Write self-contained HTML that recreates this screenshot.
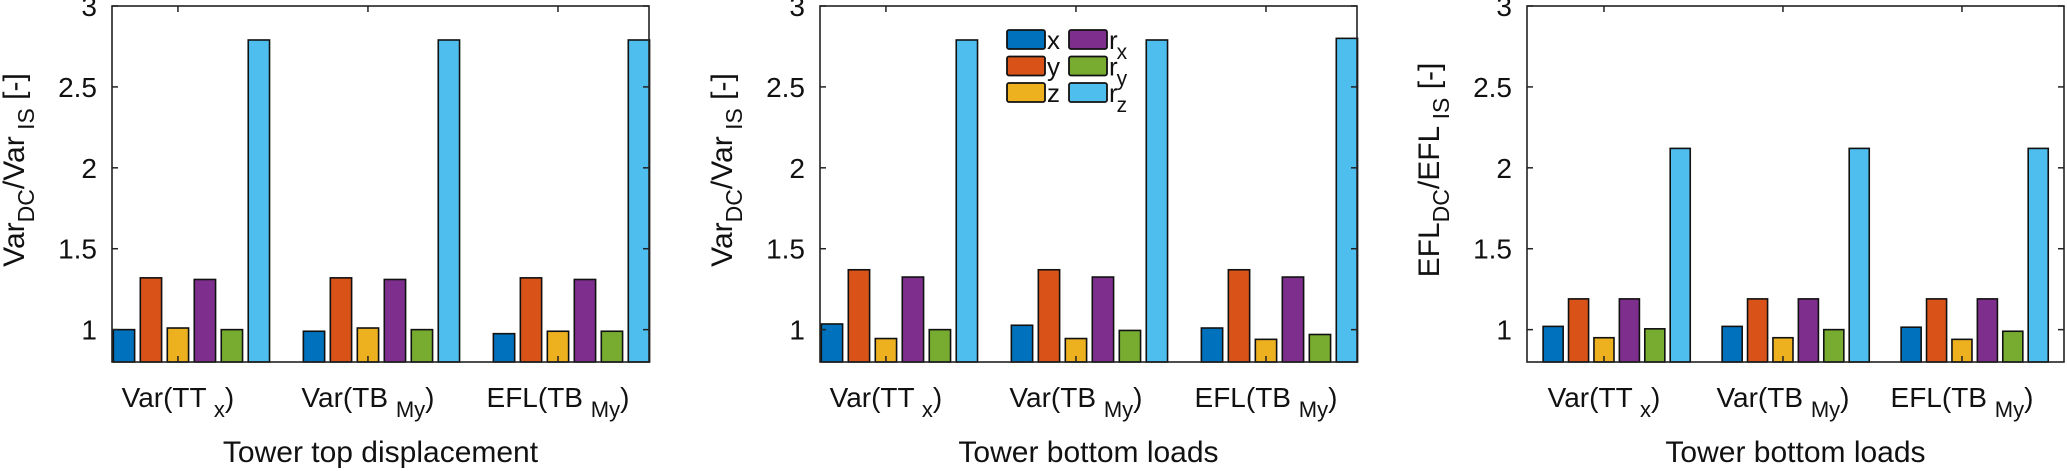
<!DOCTYPE html>
<html><head><meta charset="utf-8">
<style>
html,body{margin:0;padding:0;background:#fff;}
svg{display:block;font-family:"Liberation Sans",Arial,sans-serif;}
</style></head>
<body>
<svg id="chart" width="2067" height="471" viewBox="0 0 2067 471" xmlns="http://www.w3.org/2000/svg"></svg>
<script>
const categories = ["Var(TT_x)", "Var(TB_My)", "EFL(TB_My)"];
const seriesNames = ["x","y","z","rx","ry","rz"];
const yTicks = [1, 1.5, 2, 2.5, 3];
const yTickLabels = ["1","1.5","2","2.5","3"];
// panel 1: tower top displacement (Var ratio)
const p1x  = [1.00, 0.99, 0.975];
const p1y  = [1.32, 1.32, 1.32];
const p1z  = [1.01, 1.01, 0.99];
const p1rx = [1.31, 1.31, 1.31];
const p1ry = [1.00, 1.00, 0.99];
const p1rz = [2.79, 2.79, 2.79];
// panel 2: tower bottom loads (Var ratio)
const p2x  = [1.035, 1.027, 1.01];
const p2y  = [1.37, 1.37, 1.37];
const p2z  = [0.945, 0.945, 0.94];
const p2rx = [1.325, 1.325, 1.325];
const p2ry = [1.00, 0.995, 0.97];
const p2rz = [2.79, 2.79, 2.80];
// panel 3: tower bottom loads (EFL ratio)
const p3x  = [1.02, 1.02, 1.015];
const p3y  = [1.19, 1.19, 1.19];
const p3z  = [0.95, 0.95, 0.94];
const p3rx = [1.19, 1.19, 1.19];
const p3ry = [1.005, 1.00, 0.99];
const p3rz = [2.12, 2.12, 2.12];

const colors = ["#0072BD","#D95319","#EDB120","#7E2F8E","#77AC30","#4DBEEE"];
const NS = "http://www.w3.org/2000/svg";
const svg = document.getElementById("chart");
function mk(tag, attrs, parent){const e=document.createElementNS(NS,tag);for(const k in attrs)e.setAttribute(k,attrs[k]);(parent||svg).appendChild(e);return e;}

const panels = [
 {left:112, xmin:0.653, xmax:3.479, data:[p1x,p1y,p1z,p1rx,p1ry,p1rz], ylab:"Var", xlab:"Tower top displacement", name:"panel-top-displacement"},
 {left:820, xmin:0.653, xmax:3.479, data:[p2x,p2y,p2z,p2rx,p2ry,p2rz], ylab:"Var", xlab:"Tower bottom loads", name:"panel-bottom-loads-var"},
 {left:1527,xmin:0.57,  xmax:3.57,  data:[p3x,p3y,p3z,p3rx,p3ry,p3rz], ylab:"EFL", xlab:"Tower bottom loads", name:"panel-bottom-loads-efl"}
];
const W=537, yTop=6, yBottom=362, ymin=0.8, ymax=3;
const yScale = v => yBottom - (v-ymin)/(ymax-ymin)*(yBottom-yTop);

panels.forEach((p,pi)=>{
  const g = mk("g",{});
  
  
  const xScale = v => p.left + (v-p.xmin)/(p.xmax-p.xmin)*W;
  const unit = W/(p.xmax-p.xmin);
  const off = 0.142, bw = 0.112;
  p.data.forEach((arr,si)=>{
    arr.forEach((v,ci)=>{
      const cx = xScale(ci+1 + (si-2)*off);
      const y = yScale(v);
      const r = mk("rect",{x:cx-bw*unit/2, y:y, width:bw*unit, height:yBottom-y, fill:colors[si], stroke:"#111", "stroke-width":1.6}, g);
      
      
    });
  });
  const box = mk("rect",{x:p.left,y:yTop,width:W,height:yBottom-yTop,fill:"none",stroke:"#222","stroke-width":1.6},g);
  
  
  yTicks.forEach((t,i)=>{
    const y=yScale(t);
    mk("line",{x1:p.left,x2:p.left+6,y1:y,y2:y,stroke:"#222","stroke-width":1.5},g);
    mk("line",{x1:p.left+W,x2:p.left+W-6,y1:y,y2:y,stroke:"#222","stroke-width":1.5},g);
    const tx = mk("text",{x:p.left-15,y:y+10,"text-anchor":"end","font-size":28,fill:"#111"},g);
    tx.textContent = yTickLabels[i];
    
    
  });
  categories.forEach((c,ci)=>{
    const x = xScale(ci+1);
    mk("line",{x1:x,x2:x,y1:yTop,y2:yTop+6,stroke:"#222","stroke-width":1.5},g);
    mk("line",{x1:x,x2:x,y1:yBottom,y2:yBottom-6,stroke:"#222","stroke-width":1.5},g);
    const parts = c.match(/^(.*\()(\w+)_(\w+)\)$/);
    const tx = mk("text",{x:x,y:407,"text-anchor":"middle","font-size":28,fill:"#111"},g);
    
    
    const a = mk("tspan",{},tx); a.textContent = parts[1]+parts[2]+" ";
    const b = mk("tspan",{"font-size":22,dy:10},tx); b.textContent = parts[3];
    const d = mk("tspan",{dy:-10},tx); d.textContent = ")";
  });
  const xl = mk("text",{x:p.left+W/2,y:462,"text-anchor":"middle","font-size":30,fill:"#111"},g);
  xl.textContent = p.xlab;
  
  
  const lx = p.left - 88;
  const yl = mk("text",{transform:`translate(${lx},170) rotate(-90)`,"text-anchor":"middle","font-size":30,fill:"#111"},g);
  
  
  const s1=mk("tspan",{},yl); s1.textContent=p.ylab;
  const s2=mk("tspan",{"font-size":23,dy:10},yl); s2.textContent="DC";
  const s3=mk("tspan",{dy:-10},yl); s3.textContent="/"+p.ylab;
  const s4=mk("tspan",{"font-size":23,dy:10},yl); s4.textContent=" IS";
  const s5=mk("tspan",{dy:-10},yl); s5.textContent=" [-]";
});

const leg = mk("g",{});


const legLabels = [["x",""],["y",""],["z",""],["r","x"],["r","y"],["r","z"]];
for(let i=0;i<6;i++){
  const col = Math.floor(i/3), row = i%3;
  const x = 1007 + col*62, y = 30 + row*26.5;
  const e = mk("g",{},leg);
  
  
  mk("rect",{x:x,y:y,width:38,height:19,rx:2,fill:colors[i],stroke:"#111","stroke-width":1.8},e);
  const t = mk("text",{x:x+40,y:y+19,"font-size":26,fill:"#111"},e);
  const t1=mk("tspan",{},t); t1.textContent=legLabels[i][0];
  if(legLabels[i][1]){const t2=mk("tspan",{"font-size":21,dy:10,dx:-1},t); t2.textContent=legLabels[i][1];}
}
</script>
</body></html>
